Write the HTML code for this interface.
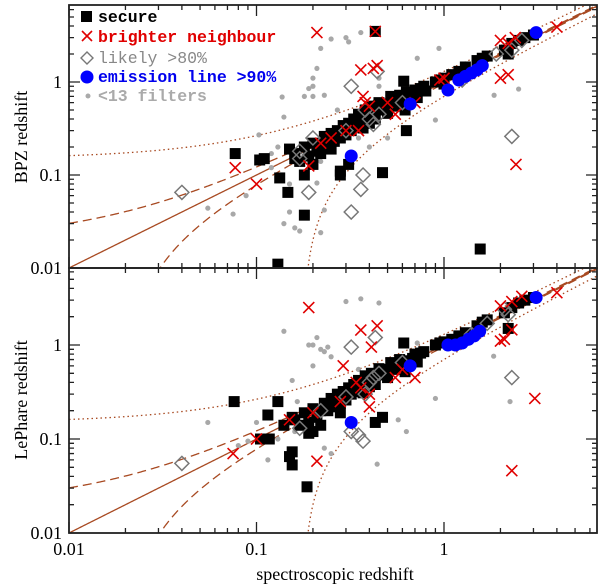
<!DOCTYPE html>
<html><head><meta charset="utf-8"><style>
html,body{margin:0;padding:0;background:#fff;width:600px;height:587px;overflow:hidden;}
svg{display:block;}
</style></head><body>
<svg id="chart" width="600" height="587" viewBox="0 0 600 587" xmlns="http://www.w3.org/2000/svg">
<defs>
<clipPath id="clipTop"><rect x="69" y="5" width="528" height="263"/></clipPath>
<clipPath id="clipBot"><rect x="69" y="268" width="528" height="265"/></clipPath>
</defs>
<g id="topPlot" clip-path="url(#clipTop)"></g>
<g id="botPlot" clip-path="url(#clipBot)"></g>
<g id="axes"></g>
<g id="legend" font-family="'Liberation Mono', monospace" font-weight="bold" font-size="16.5">
  <rect x="81" y="11" width="11" height="11" fill="#000"/>
  <text x="98" y="22" fill="#000">secure</text>
  <path d="M82,31 L92,41 M92,31 L82,41" stroke="#e00000" stroke-width="1.6"/>
  <text x="98" y="42" fill="#e00000">brighter neighbour</text>
  <path d="M87,52 L93,58 L87,64 L81,58 Z" fill="none" stroke="#777" stroke-width="1.4"/>
  <text x="98" y="63" fill="#888" font-weight="normal">likely &gt;80%</text>
  <circle cx="87" cy="77" r="6.5" fill="#0000ff"/>
  <text x="98" y="82" fill="#0000ee">emission line &gt;90%</text>
  <circle cx="88" cy="96" r="2.5" fill="#aaa"/>
  <text x="98" y="101" fill="#aaa">&lt;13 filters</text>
</g>
<text x="335" y="580" text-anchor="middle" font-family="'Liberation Serif', serif" font-size="18">spectroscopic redshift</text>
<text transform="translate(27,137) rotate(-90)" text-anchor="middle" font-family="'Liberation Serif', serif" font-size="18">BPZ redshift</text>
<text transform="translate(27,400) rotate(-90)" text-anchor="middle" font-family="'Liberation Serif', serif" font-size="18">LePhare redshift</text>
</svg>
<script>
// ---- data (spectroscopic z, photometric z) ----
const topSecureZs = [0.077,0.104,0.11,0.133,0.147,0.15,0.16,0.13,0.18,0.18,0.28,0.28,0.31,0.47,1.56,0.43,0.16,0.17,0.18,0.19,0.2,0.21,0.22,0.23,0.24,0.25,0.26,0.27,0.28,0.29,0.3,0.31,0.32,0.33,0.34,0.35,0.36,0.37,0.38,0.39,0.4,0.41,0.42,0.43,0.44,0.45,0.47,0.49,0.5,0.52,0.54,0.56,0.58,0.6,0.62,0.63,0.65,0.68,0.7,0.72,0.75,0.78,0.8,0.61,0.63,0.9,0.95,1.0,1.1,1.2,1.3,1.5,1.6,1.7,2.1,2.3,2.5,2.7,3.0,2.2,1.0,0.2,0.22,0.25];
const topSecureZp = [0.17,0.145,0.15,0.093,0.065,0.19,0.15,0.011,0.037,0.1,0.11,0.1,0.13,0.106,0.016,3.5,0.17,0.14,0.2,0.16,0.22,0.18,0.2,0.26,0.21,0.28,0.23,0.3,0.25,0.34,0.27,0.36,0.3,0.4,0.33,0.45,0.38,0.32,0.5,0.42,0.36,0.55,0.46,0.4,0.5,0.6,0.52,0.58,0.46,0.7,0.62,0.55,0.72,0.65,0.5,0.78,0.7,0.75,0.82,0.68,0.85,0.9,0.8,1.02,0.3,1.0,1.05,1.1,1.2,1.3,1.45,1.7,1.8,1.9,2.2,2.6,2.8,3.0,3.2,2.0,0.95,0.13,0.17,0.19];
const topNeighZs = [0.077,0.1,0.21,0.43,0.36,0.42,0.44,0.37,0.38,0.4,0.35,0.3,0.25,0.22,0.19,0.5,0.55,0.7,0.95,1.0,2.0,2.2,2.4,4.0,2.0,2.2,2.42];
const topNeighZp = [0.12,0.08,3.4,3.5,1.35,1.4,1.5,0.7,0.6,0.55,0.3,0.3,0.25,0.22,0.125,0.6,0.45,0.6,1.05,1.1,2.8,2.6,3.0,3.9,1.1,1.2,0.13];
const topLikelyZs = [0.04,0.32,0.32,0.44,0.37,0.36,0.19,2.3,2.3,1.9,2.6,0.4,0.42,0.45,0.38,0.2,0.17,0.3,0.6,1.25,0.17];
const topLikelyZp = [0.065,0.04,0.9,1.3,0.1,0.07,0.065,0.26,2.2,2.0,2.8,0.4,0.35,0.45,0.5,0.25,0.15,0.3,0.6,1.05,0.18];
const topEmisZs = [0.32,0.66,1.05,1.2,1.3,1.4,1.5,1.6,3.1];
const topEmisZp = [0.16,0.58,0.82,1.05,1.15,1.25,1.35,1.5,3.4];
const topFewZs = [0.055,0.075,0.088,0.103,0.137,0.14,0.12,0.14,0.15,0.16,0.25,0.3,0.36,0.31,0.22,0.21,0.2,0.2,0.19,0.18,0.2,0.23,0.45,0.72,0.94,0.9,1.85,2.5,0.22,0.21,0.23,0.22,0.17,0.27,0.35,0.4,0.45,0.5,0.15,0.13,0.12];
const topFewZp = [0.044,0.038,0.06,0.27,0.69,0.42,0.12,0.03,0.04,0.027,2.9,3.0,3.4,2.7,2.3,1.4,1.1,0.9,0.85,0.7,0.7,0.72,1.1,1.8,2.3,0.39,0.72,0.84,0.14,0.082,0.042,0.024,0.025,0.5,0.25,0.2,0.9,0.25,0.08,0.2,0.17];

const botSecureZs = [0.076,0.115,0.13,0.14,0.155,0.105,0.117,0.155,0.15,0.155,0.186,0.47,0.43,0.61,0.19,0.28,0.16,0.17,0.18,0.19,0.2,0.21,0.22,0.23,0.24,0.25,0.26,0.27,0.28,0.29,0.3,0.31,0.32,0.33,0.34,0.35,0.36,0.37,0.38,0.39,0.4,0.41,0.42,0.43,0.44,0.45,0.47,0.49,0.5,0.52,0.54,0.56,0.58,0.6,0.62,0.65,0.68,0.7,0.72,0.75,0.78,0.9,0.95,1.0,1.1,1.2,1.3,1.5,1.6,1.7,2.1,2.3,2.5,2.7,3.0,2.2,0.2,0.22];
const botSecureZp = [0.25,0.18,0.25,0.14,0.17,0.1,0.1,0.073,0.065,0.053,0.031,0.17,0.15,1.05,0.115,0.19,0.16,0.14,0.19,0.15,0.21,0.17,0.2,0.24,0.2,0.27,0.22,0.3,0.24,0.32,0.26,0.35,0.3,0.38,0.32,0.42,0.36,0.31,0.47,0.4,0.36,0.5,0.44,0.38,0.48,0.56,0.5,0.55,0.45,0.65,0.6,0.55,0.7,0.62,0.52,0.68,0.72,0.8,0.66,0.82,0.85,1.0,1.05,1.08,1.15,1.25,1.35,1.6,1.75,1.85,2.2,2.5,2.8,3.0,3.2,1.5,0.12,0.14];
const botNeighZs = [0.075,0.1,0.19,0.36,0.44,0.41,0.29,0.21,2.3,3.05,2.0,2.1,2.3,4.0,2.0,2.3,2.6,0.34,0.36,0.4,0.4,0.28,0.2,0.15,0.55,0.6,0.7];
const botNeighZp = [0.07,0.1,2.5,1.44,1.6,0.95,0.6,0.058,0.046,0.27,1.1,1.15,1.45,3.6,2.6,2.9,3.3,0.4,0.35,0.3,0.22,0.25,0.19,0.16,0.45,0.55,0.45];
const botLikelyZs = [0.04,0.32,0.43,2.3,0.35,0.37,0.32,0.17,0.4,0.42,0.38,0.45,0.3,0.22,0.6,1.4,2.2,2.1,1.7];
const botLikelyZp = [0.055,0.95,1.2,0.45,0.11,0.095,0.12,0.13,0.4,0.45,0.3,0.5,0.28,0.2,0.65,1.3,2.1,2.4,1.7];
const botEmisZs = [0.32,0.66,1.05,1.15,1.25,1.35,1.45,1.55,3.1];
const botEmisZp = [0.15,0.6,1.0,1.0,1.05,1.15,1.25,1.4,3.2];
const botFewZs = [0.055,0.08,0.09,0.1,0.115,0.13,0.14,0.155,0.165,0.16,0.3,0.36,0.45,0.2,0.21,0.22,0.23,0.24,0.25,0.19,0.2,0.35,0.9,1.84,2.25,0.57,0.63,0.44,0.23,0.25,0.72];
const botFewZp = [0.15,0.085,0.095,0.15,0.06,0.1,1.4,0.42,0.25,0.12,2.9,3.1,2.8,1.0,1.2,0.9,0.85,0.95,0.75,1.0,0.6,0.55,0.27,0.76,0.25,0.16,0.12,0.054,0.08,0.07,1.05];

// ---- axes mapping ----
const NS = 'http://www.w3.org/2000/svg';
const L = 69, R = 597;
const X = v => L + 187.5 * (Math.log10(v) + 2);
const Ytop = v => 268 - 93 * (Math.log10(v) + 2);
const Ybot = v => 533 - 94 * (Math.log10(v) + 2);
function mk(tag, attrs, parent) {
  const e = document.createElementNS(NS, tag);
  for (const k in attrs) e.setAttribute(k, attrs[k]);
  parent.appendChild(e);
  return e;
}

function drawPanel(g, Y, few, sec, lik, nei, emi, prefix) {
  const curves = [
    {f: z => z, dash: null, w: 1.3},
    {f: z => z + 0.02 * (1 + z), dash: '9,5', w: 1.3},
    {f: z => z - 0.02 * (1 + z), dash: '9,5', w: 1.3},
    {f: z => z + 0.15 * (1 + z), dash: '1.5,3', w: 1.3},
    {f: z => z - 0.15 * (1 + z), dash: '1.5,3', w: 1.3}
  ];
  const names = ['one-to-one-line','upper-dashed-bound','lower-dashed-bound','upper-dotted-bound','lower-dotted-bound'];
  curves.forEach((c, i) => {
    let d = '';
    for (let lz = -2; lz <= 1; lz += 0.005) {
      const z = Math.pow(10, lz), y = c.f(z);
      if (y <= 0.001) continue;
      d += (d ? 'L' : 'M') + X(z).toFixed(2) + ',' + Y(y).toFixed(2);
    }
    const p = mk('path', {d: d, fill: 'none', stroke: '#a84a22', 'stroke-width': c.w}, g);
    if (c.dash) p.setAttribute('stroke-dasharray', c.dash);
    
    
  });
  few[0].forEach((z, i) => {
    const c = mk('circle', {cx: X(z), cy: Y(few[1][i]), r: 2.6, fill: '#a8a8a8'}, g);
    
    
  });
  sec[0].forEach((z, i) => {
    const s = mk('rect', {x: X(z) - 5.5, y: Y(sec[1][i]) - 5.5, width: 11, height: 11, fill: '#000'}, g);
    
    
  });
  lik[0].forEach((z, i) => {
    const cx = X(z), cy = Y(lik[1][i]);
    const p = mk('path', {d: `M${cx},${cy-7}L${cx+7},${cy}L${cx},${cy+7}L${cx-7},${cy}Z`, fill: 'none', stroke: '#777', 'stroke-width': 1.5}, g);
    
    
  });
  nei[0].forEach((z, i) => {
    const cx = X(z), cy = Y(nei[1][i]);
    const p = mk('path', {d: `M${cx-5.5},${cy-5.5}L${cx+5.5},${cy+5.5}M${cx+5.5},${cy-5.5}L${cx-5.5},${cy+5.5}`, stroke: '#e00000', 'stroke-width': 1.6}, g);
    
    
  });
  emi[0].forEach((z, i) => {
    const c = mk('circle', {cx: X(z), cy: Y(emi[1][i]), r: 6.5, fill: '#0000ff'}, g);
    
    
  });
}

drawPanel(document.getElementById('topPlot'), Ytop,
  [topFewZs, topFewZp], [topSecureZs, topSecureZp], [topLikelyZs, topLikelyZp],
  [topNeighZs, topNeighZp], [topEmisZs, topEmisZp], 'bpz-');
drawPanel(document.getElementById('botPlot'), Ybot,
  [botFewZs, botFewZp], [botSecureZs, botSecureZp], [botLikelyZs, botLikelyZp],
  [botNeighZs, botNeighZp], [botEmisZs, botEmisZp], 'lephare-');

// ---- frames and ticks ----
const ax = document.getElementById('axes');
const decades = [0.01, 0.1, 1];
const tickLabels = ['0.01', '0.1', '1'];
[[5, 268, Ytop, 'bpz'], [268, 533, Ybot, 'lephare']].forEach(([t, b, Y, nm]) => {
  const fr = mk('rect', {x: L, y: t, width: R - L, height: b - t, fill: 'none', stroke: '#222', 'stroke-width': 1.8}, ax);
  
  
  let d = '';
  for (let e = -2; e <= 0; e++) {
    for (let m = 1; m <= 9; m++) {
      const v = m * Math.pow(10, e);
      const len = m === 1 ? 11 : 5;
      const x = X(v);
      if (x < R - 1) d += `M${x},${b}v${-len}M${x},${t}v${len}`;
      const y = Y(v);
      if (y > t + 1 && y <= b) d += `M${L},${y}h${len}M${R},${y}h${-len}`;
    }
  }
  const p = mk('path', {d: d, stroke: '#222', 'stroke-width': 1.3, fill: 'none'}, ax);
  
  
  decades.forEach((v, i) => {
    const tx = mk('text', {x: L - 7, y: Y(v) + 6, 'text-anchor': 'end', 'font-family': "'Liberation Serif', serif", 'font-size': 18}, ax);
    tx.textContent = tickLabels[i];
    
    
  });
});
decades.forEach((v, i) => {
  const tx = mk('text', {x: X(v), y: 555, 'text-anchor': 'middle', 'font-family': "'Liberation Serif', serif", 'font-size': 18}, ax);
  tx.textContent = tickLabels[i];
  
  
});
</script>
</body></html>
